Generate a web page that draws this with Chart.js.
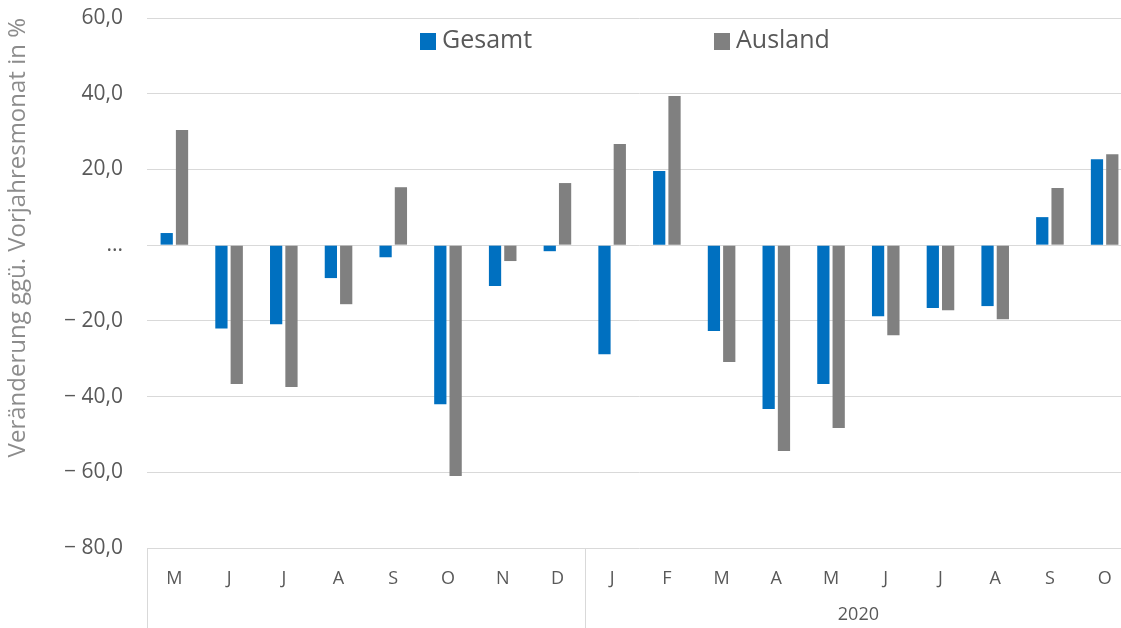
<!DOCTYPE html>
<html>
<head>
<meta charset="utf-8">
<script src="https://cdn.jsdelivr.net/npm/chart.js@4/dist/chart.umd.min.js"></script>
<style>
  html, body { margin: 0; padding: 0; background: #fff; overflow: hidden; }
  #wrap { width: 1134px; height: 628px; }
</style>
</head>
<body>
<div id="wrap"><canvas id="chart"></canvas></div>
<script>
const months = ["M", "J", "J", "A", "S", "O", "N", "D", "J", "F", "M", "A", "M", "J", "J", "A", "S", "O"];
const gesamt = [3.2, -22.0, -20.9, -8.7, -3.2, -42.0, -10.8, -1.6, -28.8, 19.6, -22.7, -43.3, -36.7, -18.8, -16.6, -16.1, 7.4, 22.7];
const ausland = [30.4, -36.7, -37.5, -15.6, 15.3, -61.0, -4.2, 16.4, 26.7, 39.4, -30.9, -54.4, -48.3, -23.8, -17.2, -19.6, 15.1, 24.0];
const years = ["", "2020"];
const yearStart = [0, 8];
const yTicks = [-80, -60, -40, -20, 0, 20, 40, 60];

const textGrey = "#595959";
const lineGrey = "#d9d9d9";
const font = "'Open Sans', 'Noto Sans', sans-serif";

function fmt(v) {
  if (v === 0) return "...";
  const s = Math.abs(v).toFixed(1).replace(".", ",");
  return v < 0 ? "\u2212 " + s : s;
}

// legend inside the plot + year groups under the month letters
const extras = {
  id: "extras",
  afterDraw(chart) {
    const ctx = chart.ctx;
    const area = chart.chartArea;
    const x = chart.scales.x;
    ctx.save();

    // legend
    const lx = [420, 714];
    ctx.font = "25px " + font;
    ctx.textBaseline = "middle";
    ctx.textAlign = "left";
    chart.data.datasets.forEach((ds, i) => {
      ctx.fillStyle = ds.backgroundColor;
      ctx.fillRect(lx[i], 33, 16, 17);
      ctx.fillStyle = textGrey;
      ctx.fillText(ds.label, lx[i] + 22, 41);
    });

    // group box lines
    ctx.strokeStyle = lineGrey;
    ctx.lineWidth = 1;
    const bottom = chart.height;
    const edges = [area.left];
    for (let i = 1; i < yearStart.length; i++) {
      edges.push((x.getPixelForValue(yearStart[i] - 1) + x.getPixelForValue(yearStart[i])) / 2);
    }
    edges.forEach(e => {
      ctx.beginPath();
      ctx.moveTo(Math.round(e) + 0.5, area.bottom);
      ctx.lineTo(Math.round(e) + 0.5, bottom);
      ctx.stroke();
    });

    // year labels
    ctx.font = "18px " + font;
    ctx.textAlign = "center";
    ctx.fillStyle = textGrey;
    years.forEach((y, i) => {
      if (!y) return;
      const from = edges[i];
      const to = i + 1 < edges.length ? edges[i + 1] : area.right;
      ctx.fillText(y, (from + to) / 2, 615);
    });
    ctx.restore();
  }
};

new Chart(document.getElementById("chart"), {
  type: "bar",
  data: {
    labels: months,
    datasets: [
      { label: "Gesamt", data: gesamt, backgroundColor: "#0070c0" },
      { label: "Ausland", data: ausland, backgroundColor: "#808080" }
    ]
  },
  options: {
    responsive: true,
    maintainAspectRatio: false,
    animation: false,
    layout: { autoPadding: false, padding: { top: 18, right: 2 } },
    datasets: { bar: { categoryPercentage: 0.56, barPercentage: 0.8 } },
    plugins: {
      legend: { display: false },
      tooltip: { enabled: false }
    },
    scales: {
      x: {
        grid: { display: false },
        border: { display: false },
        ticks: { color: textGrey, font: { family: font, size: 18 }, padding: 12, maxRotation: 0, autoSkip: false },
        afterFit(s) { s.height = 80; }
      },
      y: {
        min: -80,
        max: 60,
        afterBuildTicks(s) { s.ticks = yTicks.map(v => ({ value: v })); },
        grid: { color: lineGrey, drawTicks: false },
        border: { display: false },
        ticks: { color: textGrey, font: { family: font, size: 21 }, padding: 24, callback: v => fmt(v) },
        title: {
          display: true,
          text: "Veränderung ggü. Vorjahresmonat in %",
          align: "end",
          color: "#8c8c8c",
          font: { family: font, size: 24 },
          padding: { top: 4, bottom: 0 }
        },
        afterFit(s) { s.width = 147; s.paddingTop = 0; s.paddingBottom = 0; }
      }
    }
  },
  plugins: [extras]
});
</script>
</body>
</html>
